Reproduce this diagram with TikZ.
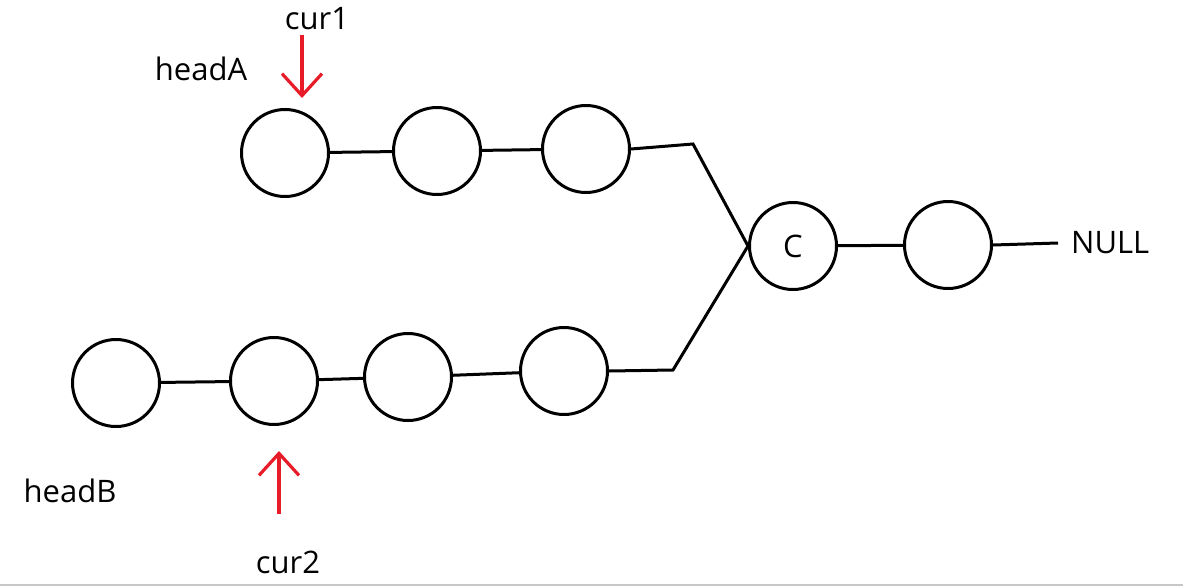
\documentclass[tikz,border=0pt]{standalone}
\usepackage{fontspec}
\setmainfont{Open Sans}
\usetikzlibrary{arrows.meta}
\definecolor{arrred}{RGB}{232,28,40}
\tikzset{
  lnode/.style={circle,draw=black,line width=3pt,minimum size=87pt,inner sep=0pt},
  link/.style={line width=3pt,draw=black},
  lbl/.style={font=\fontsize{31}{36}\selectfont,inner sep=0pt},
  ptr/.style={line width=3.2pt,draw=arrred,-{Straight Barb[length=22pt,width=40pt,line width=3.2pt]}}
}
\begin{document}
\begin{tikzpicture}[x=1pt,y=-1pt]
\useasboundingbox (0,0) rectangle (1183,586);
\draw[line width=1.5pt,draw=black!22] (0,585) -- (1183,585);
% list A
\node[lnode] (a1) at (285,153) {};
\node[lnode] (a2) at (437,151) {};
\node[lnode] (a3) at (586,149) {};
% shared
\node[lnode,lbl] (c) at (793,246) {C};
\node[lnode] (d) at (948,245) {};
% list B
\node[lnode] (b1) at (116,383) {};
\node[lnode] (b2) at (274,381) {};
\node[lnode] (b3) at (408,377) {};
\node[lnode] (b4) at (564,371) {};
\coordinate (ja) at (693,144);
\coordinate (jb) at (673,370);
\coordinate (nl) at (1058,243);
\node[lbl,anchor=west] (null) at (1071,243) {NULL};
\draw[link] (a1) -- (a2);
\draw[link] (a2) -- (a3);
\draw[link] (a3.east) -- (ja) -- (c.west);
\draw[link] (b1) -- (b2);
\draw[link] (b2) -- (b3);
\draw[link] (b3) -- (b4);
\draw[link] (b4.east) -- (jb) -- (c.west);
\draw[link] (c) -- (d);
\draw[link] (d.east) -- (nl);
% labels
\node[lbl] (ha) at (201,69) {headA};
\node[lbl] (hb) at (70,491) {headB};
\node[lbl] (c1) at (317,19) {cur1};
\node[lbl] (c2) at (288,562) {cur2};
\coordinate (p1s) at (302,35);
\coordinate (p1e) at (302,98);
\coordinate (p2s) at (279,514);
\coordinate (p2e) at (279,451);
\draw[ptr] (p1s) -- (p1e);
\draw[ptr] (p2s) -- (p2e);
\end{tikzpicture}
\end{document}
